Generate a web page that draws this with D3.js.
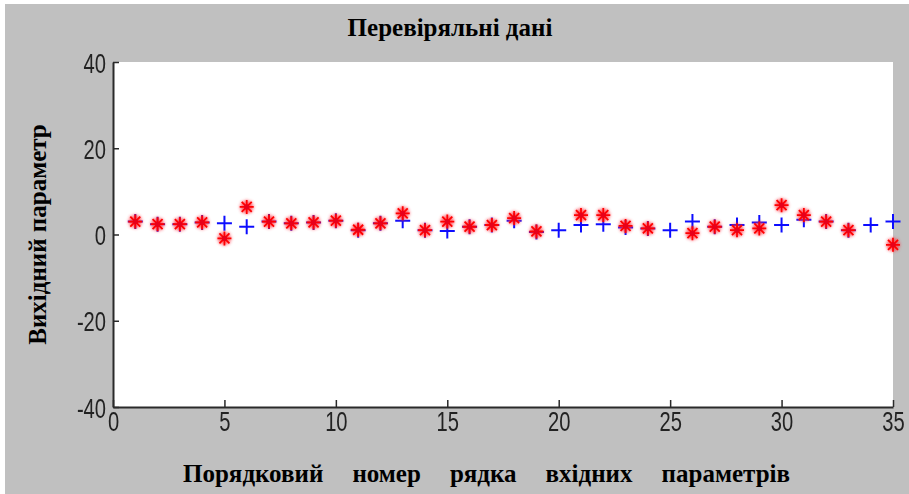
<!DOCTYPE html>
<html>
<head>
<meta charset="utf-8">
<script src="https://cdn.jsdelivr.net/npm/d3@7"></script>
<style>
  html, body { margin: 0; padding: 0; background: #ffffff; }
  svg { display: block; }
</style>
</head>
<body>
<svg id="chart" width="909" height="494"></svg>
<script>
// Row numbers of the check set
const rowIndex = [1, 2, 3, 4, 5, 6, 7, 8, 9, 10, 11, 12, 13, 14, 15, 16, 17, 18,
  19, 20, 21, 22, 23, 24, 25, 26, 27, 28, 29, 30, 31, 32, 33, 34, 35];

// Target output (blue "+")
const targetValues = [3.0, 2.4, 2.4, 2.8, 2.6, 1.8, 3.0, 2.6, 2.8, 3.2, 1.0, 2.6,
  3.2, 1.0, 0.8, 1.8, 2.2, 3.2, 0.6, 1.0, 2.2, 2.4, 1.6, 1.4, 1.0, 3.0, 1.8, 2.2,
  2.8, 2.2, 3.4, 3.0, 1.0, 2.2, 3.0];

// Model output (red "*"); null where no value is shown
const modelValues = [3.0, 2.4, 2.4, 2.8, -0.9, 6.4, 3.0, 2.6, 2.8, 3.2, 1.1, 2.6,
  4.9, 1.0, 3.0, 1.8, 2.2, 3.8, 0.7, null, 4.5, 4.5, 2.0, 1.4, null, 0.3, 1.8, 1.0,
  1.4, 6.8, 4.5, 3.0, 1.0, null, -2.4];

const xTicks = [0, 5, 10, 15, 20, 25, 30, 35];
const yTicks = [-40, -20, 0, 20, 40];

const titleText = "Перевіряльні дані";
const xLabelText = "Порядковий номер рядка вхідних параметрів";
const yLabelText = "Вихідний параметр";

const svg = d3.select("#chart");
const W = 909, H = 494;
const plot = { left: 113, right: 893, top: 62, bottom: 407 };

const x = d3.scaleLinear().domain([0, 35]).range([plot.left, plot.right]);
const y = d3.scaleLinear().domain([-40, 40]).range([plot.bottom, plot.top]);

// soft edges for the markers and tick labels
const defs = svg.append("defs");
defs.append("filter").attr("id", "glow").attr("x", "-50%").attr("y", "-50%")
  .attr("width", "200%").attr("height", "200%")
  .append("feGaussianBlur").attr("stdDeviation", 1.6);
defs.append("filter").attr("id", "soft").attr("x", "-50%").attr("y", "-50%")
  .attr("width", "200%").attr("height", "200%")
  .append("feGaussianBlur").attr("stdDeviation", 0.45);

// figure background
svg.append("rect").attr("x", 5).attr("y", 4).attr("width", W - 5).attr("height", H - 4)
  .attr("fill", "#c0c0c0");

// plot area
svg.append("rect")
  .attr("x", plot.left).attr("y", plot.top)
  .attr("width", plot.right - plot.left).attr("height", plot.bottom - plot.top)
  .attr("fill", "#ffffff");

// axes (ticks pointing inward)
const axisColor = "#2a2a2a";
const tickFmt = d => String(d);
const xAxis = d3.axisBottom(x).tickValues(xTicks).tickSizeInner(-7).tickSizeOuter(0)
  .tickPadding(0).tickFormat(tickFmt);
const yAxis = d3.axisLeft(y).tickValues(yTicks).tickSizeInner(-6).tickSizeOuter(0)
  .tickPadding(0).tickFormat(tickFmt);

const gx = svg.append("g").attr("transform", `translate(0,${plot.bottom})`).call(xAxis);
const gy = svg.append("g").attr("transform", `translate(${plot.left},0)`).call(yAxis);

// narrow, tall digits for the tick labels
const squeeze = 0.72;
[gx, gy].forEach(g => {
  g.select(".domain").attr("stroke", axisColor).attr("stroke-width", 2);
  g.selectAll(".tick line").attr("stroke", axisColor).attr("stroke-width", 1.5);
  g.selectAll(".tick text")
    .attr("fill", "#222")
    .attr("font-family", "'Liberation Sans', Arial, sans-serif")
    .attr("font-size", 28)
    .attr("filter", "url(#soft)");
});
gx.selectAll(".tick text")
  .attr("x", 0).attr("y", 0).attr("dy", null)
  .attr("transform", "translate(0,24) scale(" + squeeze + ",1)");
gy.selectAll(".tick text")
  .attr("x", 0).attr("y", 0).attr("dy", null)
  .attr("transform", "translate(-7,10) scale(" + squeeze + ",1)");

// blue "+" markers
const plusArm = 7.5;
const pts = rowIndex.map((r, i) => ({ r, t: targetValues[i], m: modelValues[i] }));
const plusG = svg.append("g").attr("stroke", "#1010ff").attr("stroke-width", 2)
  .attr("filter", "url(#soft)");
pts.filter(d => d.t != null).forEach(d => {
  const cx = x(d.r), cy = y(d.t);
  plusG.append("path")
    .attr("d", `M${cx - plusArm},${cy}H${cx + plusArm}M${cx},${cy - plusArm}V${cy + plusArm}`);
});

// red "*" markers
const starPath = (cx, cy) => {
  const a = 7, b = 5;
  return `M${cx - a},${cy}H${cx + a}M${cx},${cy - a}V${cy + a}` +
    `M${cx - b},${cy - b}L${cx + b},${cy + b}M${cx - b},${cy + b}L${cx + b},${cy - b}`;
};
const starG = svg.append("g");
const modelPts = pts.filter(d => d.m != null);
starG.append("g").attr("filter", "url(#glow)").attr("opacity", 0.75)
  .selectAll("path").data(modelPts).join("path")
  .attr("d", d => starPath(x(d.r), y(d.m)))
  .attr("stroke", "#ff3040").attr("stroke-width", 3.5).attr("fill", "none");
starG.append("g").attr("filter", "url(#soft)")
  .selectAll("path").data(modelPts).join("path")
  .attr("d", d => starPath(x(d.r), y(d.m)))
  .attr("stroke", "#ff0000").attr("stroke-width", 1.8).attr("fill", "none");
starG.append("g")
  .selectAll("circle").data(modelPts).join("circle")
  .attr("cx", d => x(d.r)).attr("cy", d => y(d.m)).attr("r", 2.6)
  .attr("fill", "#e8001a");

// titles
const serif = "'Liberation Serif', 'Times New Roman', serif";
svg.append("text")
  .attr("x", 450).attr("y", 36)
  .attr("text-anchor", "middle")
  .attr("font-family", serif).attr("font-weight", "bold").attr("font-size", 25)
  .attr("fill", "#000")
  .text(titleText);

svg.append("text")
  .attr("transform", `translate(46,${(plot.top + plot.bottom) / 2}) rotate(-90)`)
  .attr("text-anchor", "middle")
  .attr("font-family", serif).attr("font-weight", "bold").attr("font-size", 25)
  .attr("fill", "#000")
  .text(yLabelText);

// x label, words spread across a fixed width
const xl = svg.append("text")
  .attr("x", 183).attr("y", 482)
  .attr("font-family", serif).attr("font-weight", "bold").attr("font-size", 25)
  .attr("fill", "#000")
  .text(xLabelText);
const natural = xl.node().getComputedTextLength();
const gaps = xLabelText.split(" ").length - 1;
xl.style("word-spacing", `${Math.max(0, (607 - natural) / gaps)}px`);
</script>
</body>
</html>
